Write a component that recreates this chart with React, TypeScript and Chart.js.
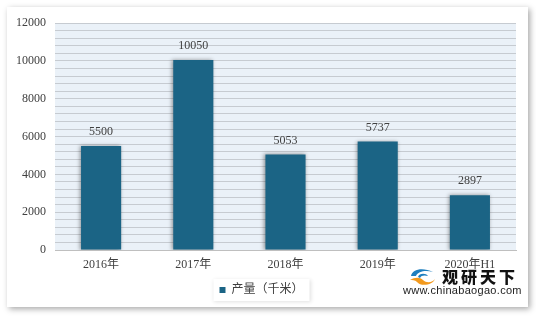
import React, { useEffect, useRef } from "react";
import { Chart, registerables } from "chart.js";

Chart.register(...registerables);

const categories = ["2016年", "2017年", "2018年", "2019年", "2020年H1"];
const production = [5500, 10050, 5053, 5737, 2897];
const seriesLabel = "产量（千米）";
const yMax = 12000;
const yStep = 400;
const yLabelStep = 2000;

const BAR_COLOR = "#1b6485";
const FONT = "'Liberation Serif', 'Noto Sans CJK SC', serif";

const bgPlugin = {
  id: "plotBg",
  beforeDraw(chart: any) {
    const { ctx, chartArea } = chart;
    ctx.save();
    ctx.fillStyle = "#eaf1f8";
    ctx.fillRect(chartArea.left, chartArea.top, chartArea.right - chartArea.left, chartArea.bottom - chartArea.top);
    const lg = chart.legend;
    if (lg) {
      ctx.shadowColor = "rgba(0,0,0,0.12)";
      ctx.shadowBlur = 4;
      ctx.shadowOffsetX = 1;
      ctx.shadowOffsetY = 1;
      ctx.fillStyle = "#ffffff";
      const items = lg.legendHitBoxes;
      if (items && items.length) {
        const hb = items[0];
        ctx.fillRect(hb.left - 6, hb.top - 5, hb.width + 12, hb.height + 10);
      }
    }
    ctx.restore();
  },
};

const shadowPlugin = {
  id: "barShadow",
  beforeDatasetDraw(chart: any) {
    const ctx = chart.ctx;
    ctx.save();
    ctx.shadowColor = "rgba(0,0,0,0.4)";
    ctx.shadowBlur = 4;
    ctx.shadowOffsetX = -1;
    ctx.shadowOffsetY = 0;
  },
  afterDatasetDraw(chart: any) {
    chart.ctx.restore();
  },
};

const labelPlugin = {
  id: "valueLabels",
  afterDatasetsDraw(chart: any) {
    const { ctx } = chart;
    const meta = chart.getDatasetMeta(0);
    const data = chart.data.datasets[0].data;
    ctx.save();
    ctx.font = "12px " + FONT;
    ctx.fillStyle = "#404040";
    ctx.textAlign = "center";
    ctx.textBaseline = "middle";
    meta.data.forEach((bar: any, i: number) => {
      ctx.fillText(String(data[i]), bar.x, bar.y - 14);
    });
    ctx.restore();
  },
};

export default function App() {
  const ref = useRef<HTMLCanvasElement | null>(null);

  useEffect(() => {
    document.body.style.margin = "0";
    if (!ref.current) return;
    const chart = new Chart(ref.current, {
      type: "bar",
      data: {
        labels: categories,
        datasets: [
          {
            label: seriesLabel,
            data: production,
            backgroundColor: BAR_COLOR,
            borderWidth: 0,
            categoryPercentage: 1,
            barPercentage: 0.435,
          },
        ],
      },
      options: {
        animation: false,
        responsive: false,
        maintainAspectRatio: false,
        layout: { padding: { left: 0, right: 12, top: 15, bottom: 1 } },
        plugins: {
          tooltip: { enabled: false },
          legend: {
            position: "bottom",
            labels: {
              boxWidth: 6,
              boxHeight: 6,
              padding: 6,
              color: "#404040",
              font: { size: 12, family: FONT },
            },
          },
        },
        scales: {
          x: {
            grid: { display: false, drawTicks: false },
            border: { display: true, color: "#bfbfbf" },
            ticks: {
              color: "#404040",
              padding: 8,
              font: { size: 12, family: FONT },
            },
            afterFit: (s: any) => {
              s.height = 28;
            },
          },
          y: {
            min: 0,
            max: yMax,
            grid: { color: "#c6cbd1", lineWidth: 1, drawTicks: false },
            border: { display: false },
            ticks: {
              stepSize: yStep,
              autoSkip: false,
              padding: 9,
              color: "#404040",
              font: { size: 12, family: FONT },
              callback: (v: any) => (Number(v) % yLabelStep === 0 ? String(v) : ""),
            },
            afterFit: (s: any) => {
              s.width = 48;
            },
          },
        },
      },
      plugins: [bgPlugin, shadowPlugin, labelPlugin],
    });
    return () => chart.destroy();
  }, []);

  return (
    <div style={{ position: "relative", width: 536, height: 317, background: "#ffffff", overflow: "hidden" }}>
      <div
        style={{
          position: "absolute",
          left: 7,
          top: 7,
          width: 521,
          height: 300,
          background: "#ffffff",
          boxShadow: "2px 2px 6px rgba(0,0,0,0.35)",
        }}
      >
        <canvas ref={ref} width={521} height={300} style={{ display: "block" }} />
      </div>
      <svg style={{ position: "absolute", left: 409, top: 267 }} width={27} height={19} viewBox="0 0 27 19">
        <path d="M2 9 C3 2, 14 0, 24 5 C17 3, 9 4, 7 9 Z" fill="#1f7fbf" />
        <path d="M9 10 C10 6, 17 6, 19 9 C16 8, 12 8, 11 11 Z" fill="#1f7fbf" />
        <path d="M1 13 C6 10, 11 10, 14 13 C18 17, 24 15, 26 12 C24 18, 12 20, 8 15 C6 13, 3 13, 1 13 Z" fill="#f39a1e" />
      </svg>
      <div
        style={{
          position: "absolute",
          left: 442,
          top: 266,
          fontFamily: "'Noto Sans CJK SC', sans-serif",
          fontWeight: 900,
          fontSize: 16,
          letterSpacing: 3,
          lineHeight: "20px",
          color: "#111",
        }}
      >
        观研天下
      </div>
      <div
        style={{
          position: "absolute",
          left: 403,
          top: 284,
          fontFamily: "'Liberation Sans', Arial, sans-serif",
          fontSize: 11,
          letterSpacing: 0.3,
          lineHeight: "13px",
          color: "#222",
        }}
      >
        www.chinabaogao.com
      </div>
    </div>
  );
}
